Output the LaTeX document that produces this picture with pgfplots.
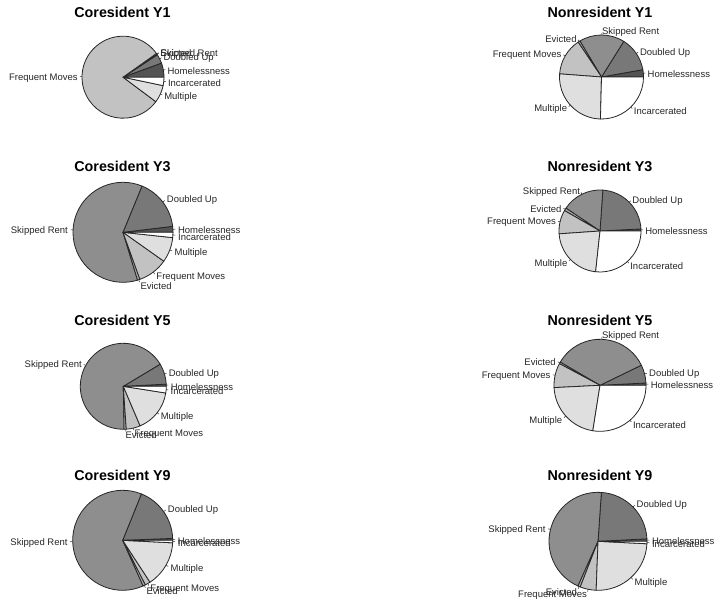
\documentclass[border=0pt]{standalone}
\usepackage{fontspec}
\setmainfont{Liberation Sans}
\usepackage{pgfplots}
\usepackage{pgfplotstable}
\pgfplotsset{compat=1.18}

\definecolor{pie0}{HTML}{535353}% Homelessness
\definecolor{pie1}{HTML}{787878}% Doubled Up
\definecolor{pie2}{HTML}{8E8E8E}% Skipped Rent
\definecolor{pie3}{HTML}{A8A8A8}% Evicted
\definecolor{pie4}{HTML}{C2C2C2}% Frequent Moves
\definecolor{pie5}{HTML}{DFDFDF}% Multiple
\definecolor{pie6}{HTML}{FFFFFF}% Incarcerated

\newcommand\labfont{\fontsize{9.5}{11}\selectfont}
\newcommand\titfont{\fontsize{14.3}{16}\selectfont\bfseries}

% shares in percent, slices run counter-clockwise from 3 o'clock
\pgfplotstableread{
label share
Homelessness 5.6
{Doubled Up} 3.6
{Skipped Rent} 0.3
Evicted 0.3
{Frequent Moves} 80.0
Multiple 6.9
Incarcerated 3.3
}\coresA
\pgfplotstableread{
label share
Homelessness 2.8
{Doubled Up} 13.3
{Skipped Rent} 17.5
Evicted 0.8
{Frequent Moves} 14.4
Multiple 25.8
Incarcerated 25.4
}\nonresA
\pgfplotstableread{
label share
Homelessness 1.9
{Doubled Up} 16.9
{Skipped Rent} 60.9
Evicted 0.8
{Frequent Moves} 9.7
Multiple 8.1
Incarcerated 1.7
}\coresB
\pgfplotstableread{
label share
Homelessness 0.8
{Doubled Up} 23.1
{Skipped Rent} 16.7
Evicted 1.1
{Frequent Moves} 9.4
Multiple 22.2
Incarcerated 26.7
}\nonresB
\pgfplotstableread{
label share
Homelessness 0.8
{Doubled Up} 7.8
{Skipped Rent} 66.7
Evicted 0.8
{Frequent Moves} 5.3
Multiple 16.1
Incarcerated 2.5
}\coresC
\pgfplotstableread{
label share
Homelessness 0.8
{Doubled Up} 6.4
{Skipped Rent} 34.4
Evicted 0.6
{Frequent Moves} 8.6
Multiple 21.7
Incarcerated 27.5
}\nonresC
\pgfplotstableread{
label share
Homelessness 0.6
{Doubled Up} 18.3
{Skipped Rent} 62.8
Evicted 0.8
{Frequent Moves} 1.7
Multiple 15.0
Incarcerated 0.8
}\coresD
\pgfplotstableread{
label share
Homelessness 0.8
{Doubled Up} 23.1
{Skipped Rent} 44.4
Evicted 0.8
{Frequent Moves} 5.3
Multiple 24.8
Incarcerated 0.8
}\nonresD

\newcommand\drawpie[2]{%
  \pgfplotstablegetrowsof{#1}%
  \pgfmathtruncatemacro\nrows{\pgfplotsretval-1}%
  \gdef\cum{0}%
  \pgfplotsforeachungrouped \i in {0,...,\nrows}{%
    \pgfplotstablegetelem{\i}{share}\of{#1}\let\val\pgfplotsretval
    \pgfplotstablegetelem{\i}{label}\of{#1}\let\lab\pgfplotsretval
    \pgfmathsetmacro\s{\cum}%
    \pgfmathsetmacro\e{\cum+3.6*\val}%
    \pgfmathsetmacro\m{0.5*(\s+\e)}%
    \xdef\cum{\e}%
    \pgfmathsetmacro\cx{cos(\m)}%
    \pgfmathsetmacro\cy{sin(\m)}%
    \ifdim\cx pt<0pt \def\anc{east}\else\def\anc{west}\fi
    \edef\temp{%
      \noexpand\filldraw[fill=pie\i, draw=black!85, line width=0.8pt, line join=round]
        (axis cs:0,0) -- ++(\s:#2pt) arc[start angle=\s, end angle=\e, radius=#2pt] -- cycle;
      \noexpand\draw[black!80, line width=0.5pt] (axis cs:\cx,\cy) -- (axis cs:{1.05*\cx},{1.05*\cy});
      \noexpand\node[anchor=\anc, inner sep=0pt, yshift=-1.5pt, font=\noexpand\labfont, text=black!85]
        at (axis cs:{1.1*\cx},{1.1*\cy}) {\lab};
    }\temp
  }%
}

\pgfplotsset{pieaxis/.style={hide axis, scale only axis, clip=false,
  xmin=-1, xmax=1, ymin=-1, ymax=1, anchor=center}}

\begin{document}
\begin{tikzpicture}
\useasboundingbox (0pt,0pt) rectangle (722pt,-605pt);

\begin{axis}[pieaxis, width=82pt, height=82pt, at={(123pt,-77.2pt)}]
\drawpie{\coresA}{41}
\end{axis}
\begin{axis}[pieaxis, width=84pt, height=84pt, at={(601.5pt,-77pt)}]
\drawpie{\nonresA}{42}
\end{axis}
\begin{axis}[pieaxis, width=100pt, height=100pt, at={(123pt,-232.3pt)}]
\drawpie{\coresB}{50}
\end{axis}
\begin{axis}[pieaxis, width=82pt, height=82pt, at={(600pt,-231pt)}]
\drawpie{\nonresB}{41}
\end{axis}
\begin{axis}[pieaxis, width=86pt, height=86pt, at={(123.3pt,-386.3pt)}]
\drawpie{\coresC}{43}
\end{axis}
\begin{axis}[pieaxis, width=92pt, height=92pt, at={(600pt,-385.3pt)}]
\drawpie{\nonresC}{46}
\end{axis}
\begin{axis}[pieaxis, width=100pt, height=100pt, at={(122.7pt,-540.3pt)}]
\drawpie{\coresD}{50}
\end{axis}
\begin{axis}[pieaxis, width=98pt, height=98pt, at={(598pt,-541.3pt)}]
\drawpie{\nonresD}{49}
\end{axis}

\node[font=\titfont] at (122.5pt,-12.7pt) {Coresident Y1};
\node[font=\titfont] at (600pt,-12.7pt) {Nonresident Y1};
\node[font=\titfont] at (122.5pt,-166.7pt) {Coresident Y3};
\node[font=\titfont] at (600pt,-166.7pt) {Nonresident Y3};
\node[font=\titfont] at (122.5pt,-320pt) {Coresident Y5};
\node[font=\titfont] at (600pt,-320pt) {Nonresident Y5};
\node[font=\titfont] at (122.5pt,-475pt) {Coresident Y9};
\node[font=\titfont] at (600pt,-475pt) {Nonresident Y9};
\end{tikzpicture}
\end{document}
